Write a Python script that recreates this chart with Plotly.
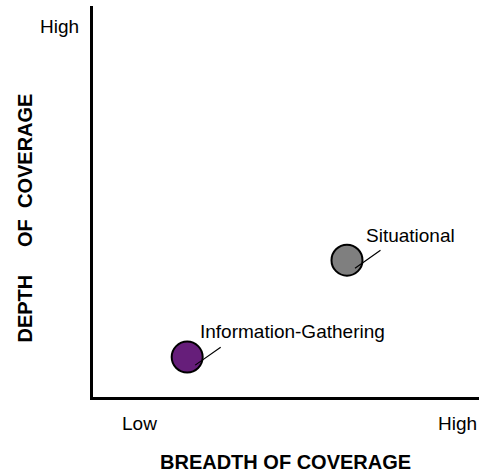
import plotly.graph_objects as go

# Data
names = ["Information-Gathering", "Situational"]
breadth = [2.44, 6.58]
depth = [1.02, 3.50]
colors = ["#661e7a", "#7f7f7f"]
x_tick_labels = ["Low", "High"]
y_tick_labels = ["High"]
x_title = "BREADTH OF COVERAGE"
y_title = "DEPTH\u00a0\u00a0\u00a0\u00a0\u00a0OF\u00a0\u00a0COVERAGE"

FONT = "Liberation Sans, Arial, Helvetica, sans-serif"

fig = go.Figure()
fig.add_trace(go.Scatter(
    x=breadth, y=depth, mode="markers",
    marker=dict(size=31, color=colors, line=dict(color="black", width=2)),
    hoverinfo="text", text=names, showlegend=False,
))

annotations = []
# leader lines and labels
label_offsets = [(11, 26), (17, 25)]
for i, nm in enumerate(names):
    annotations.append(dict(
        x=breadth[i], y=depth[i], xref="x", yref="y", text="",
        showarrow=True, arrowhead=0, arrowwidth=1.2, arrowcolor="black",
        ax=27, ay=-19, xshift=8, yshift=-8, standoff=0, startstandoff=0,
    ))
    dx, dy = label_offsets[i]
    annotations.append(dict(
        x=breadth[i], y=depth[i], xref="x", yref="y", text=nm,
        showarrow=False, xanchor="left", yanchor="middle",
        xshift=dx, yshift=dy, font=dict(size=19, color="black", family=FONT),
    ))

# tick labels
annotations.append(dict(x=0, y=0, xref="paper", yref="paper", text=x_tick_labels[0],
                        showarrow=False, xanchor="left", yanchor="top", xshift=27, yshift=-14,
                        font=dict(size=19, color="black", family=FONT)))
annotations.append(dict(x=1, y=0, xref="paper", yref="paper", text=x_tick_labels[1],
                        showarrow=False, xanchor="right", yanchor="top", xshift=0, yshift=-14,
                        font=dict(size=19, color="black", family=FONT)))
annotations.append(dict(x=0, y=1, xref="paper", yref="paper", text=y_tick_labels[0],
                        showarrow=False, xanchor="right", yanchor="top", xshift=-12, yshift=-8,
                        font=dict(size=19, color="black", family=FONT)))
# axis titles
annotations.append(dict(x=0.5, y=0, xref="paper", yref="paper", text="<b>" + x_title + "</b>",
                        showarrow=False, xanchor="center", yanchor="middle", xshift=-1, yshift=-65,
                        font=dict(size=20, color="black", family=FONT)))
annotations.append(dict(x=0, y=0.5, xref="paper", yref="paper", text="<b>" + y_title + "</b>",
                        showarrow=False, xanchor="center", yanchor="middle", xshift=-69, yshift=-17,
                        textangle=-90, font=dict(size=20, color="black", family=FONT)))

fig.update_layout(
    width=479, height=472,
    margin=dict(l=93, r=0, t=6, b=75),
    paper_bgcolor="white", plot_bgcolor="white",
    xaxis=dict(range=[0, 10], showgrid=False, zeroline=False, showticklabels=False,
               showline=True, linecolor="black", linewidth=2.5, ticks=""),
    yaxis=dict(range=[0, 10], showgrid=False, zeroline=False, showticklabels=False,
               showline=True, linecolor="black", linewidth=2.5, ticks=""),
    annotations=annotations,
    font=dict(family=FONT),
)

fig.write_html(
    "out.html",
    config={"displayModeBar": False},
    post_script="document.body.style.margin='0';document.body.style.overflow='hidden';",
)
